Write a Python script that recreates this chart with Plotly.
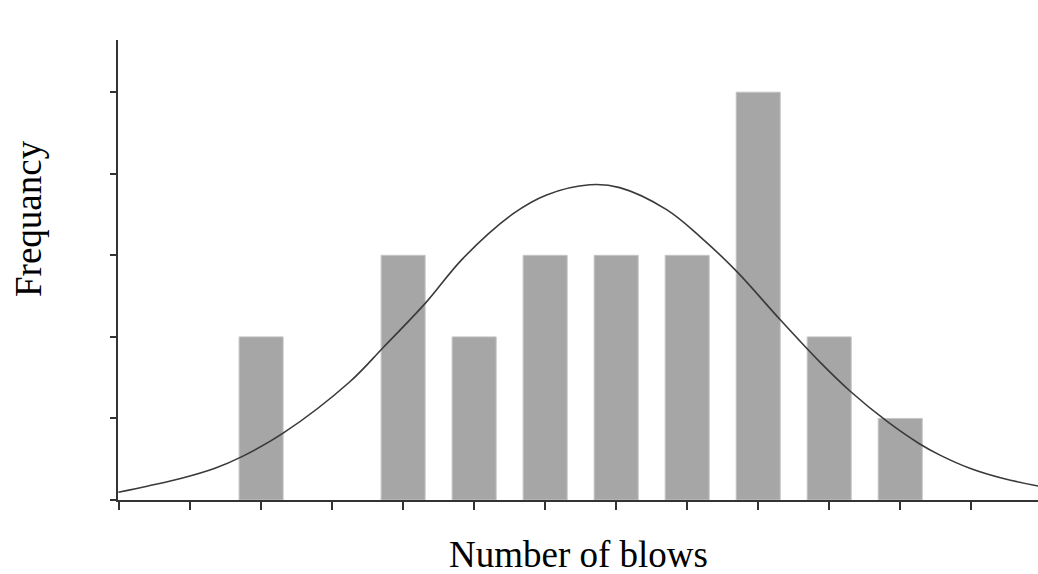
import plotly.graph_objects as go

# Histogram data (category positions along x, counts)
bar_positions = [2, 4, 5, 6, 7, 8, 9, 10, 11]
bar_counts = [2, 3, 2, 3, 3, 3, 5, 2, 1]

# Fitted curve (x position, frequency)
curve_x = [-0.01, 0.41, 0.88, 1.35, 1.73, 2.31, 3.25, 3.72, 4.32, 4.84, 5.55,
           6.02, 6.63, 7.05, 7.71, 8.18, 8.70, 9.31, 9.87, 10.30, 10.82,
           11.27, 11.56, 11.98, 12.44, 12.94]
curve_y = [0.095, 0.172, 0.266, 0.389, 0.532, 0.819, 1.45, 1.87, 2.42, 2.96,
           3.51, 3.74, 3.865, 3.83, 3.56, 3.23, 2.80, 2.21, 1.69, 1.33,
           0.96, 0.69, 0.55, 0.389, 0.266, 0.172]

x_ticks = list(range(0, 13))
y_ticks = list(range(0, 6))

serif = "Liberation Serif, Times New Roman, serif"

fig = go.Figure()
fig.add_trace(go.Bar(
    x=bar_positions, y=bar_counts, width=0.62,
    marker=dict(color="#a6a6a6", line=dict(color="#c4c4c4", width=1)),
    showlegend=False, hoverinfo="skip",
))
fig.add_trace(go.Scatter(
    x=curve_x, y=curve_y, mode="lines",
    line=dict(color="#3a3a3a", width=1.6, shape="spline", smoothing=1.0),
    showlegend=False, hoverinfo="skip",
))

fig.update_layout(
    width=1038, height=574,
    margin=dict(l=118, r=0, t=40, b=74),
    paper_bgcolor="white", plot_bgcolor="white",
    font=dict(family=serif, size=37, color="black"),
    xaxis=dict(
        range=[-0.015, 12.94], tickvals=x_ticks, showticklabels=False,
        ticks="outside", ticklen=8, tickwidth=1.5, tickcolor="#333333",
        showline=True, linecolor="#333333", linewidth=2,
        showgrid=False, zeroline=False, layer="below traces", automargin=False,
    ),
    yaxis=dict(
        range=[0, 5.64], tickvals=y_ticks, showticklabels=False,
        ticks="outside", ticklen=6, tickwidth=1.5, tickcolor="#333333",
        showline=True, linecolor="#333333", linewidth=2,
        showgrid=False, zeroline=False, automargin=False,
    ),
    annotations=[
        dict(text="Number of blows", xref="paper", yref="paper",
             x=0.5, y=-(554 - 500) / 460, xanchor="center", yanchor="middle",
             showarrow=False, font=dict(family=serif, size=37, color="black")),
        dict(text="Frequancy", xref="paper", yref="paper", textangle=-90,
             x=(28 - 118) / 920, y=(500 - 219) / 460, xanchor="center", yanchor="middle",
             showarrow=False, font=dict(family=serif, size=37, color="black")),
    ],
)

fig.write_html(
    "out.html",
    config={"displayModeBar": False},
    post_script="document.body.style.margin='0';document.body.style.overflow='hidden';",
)
